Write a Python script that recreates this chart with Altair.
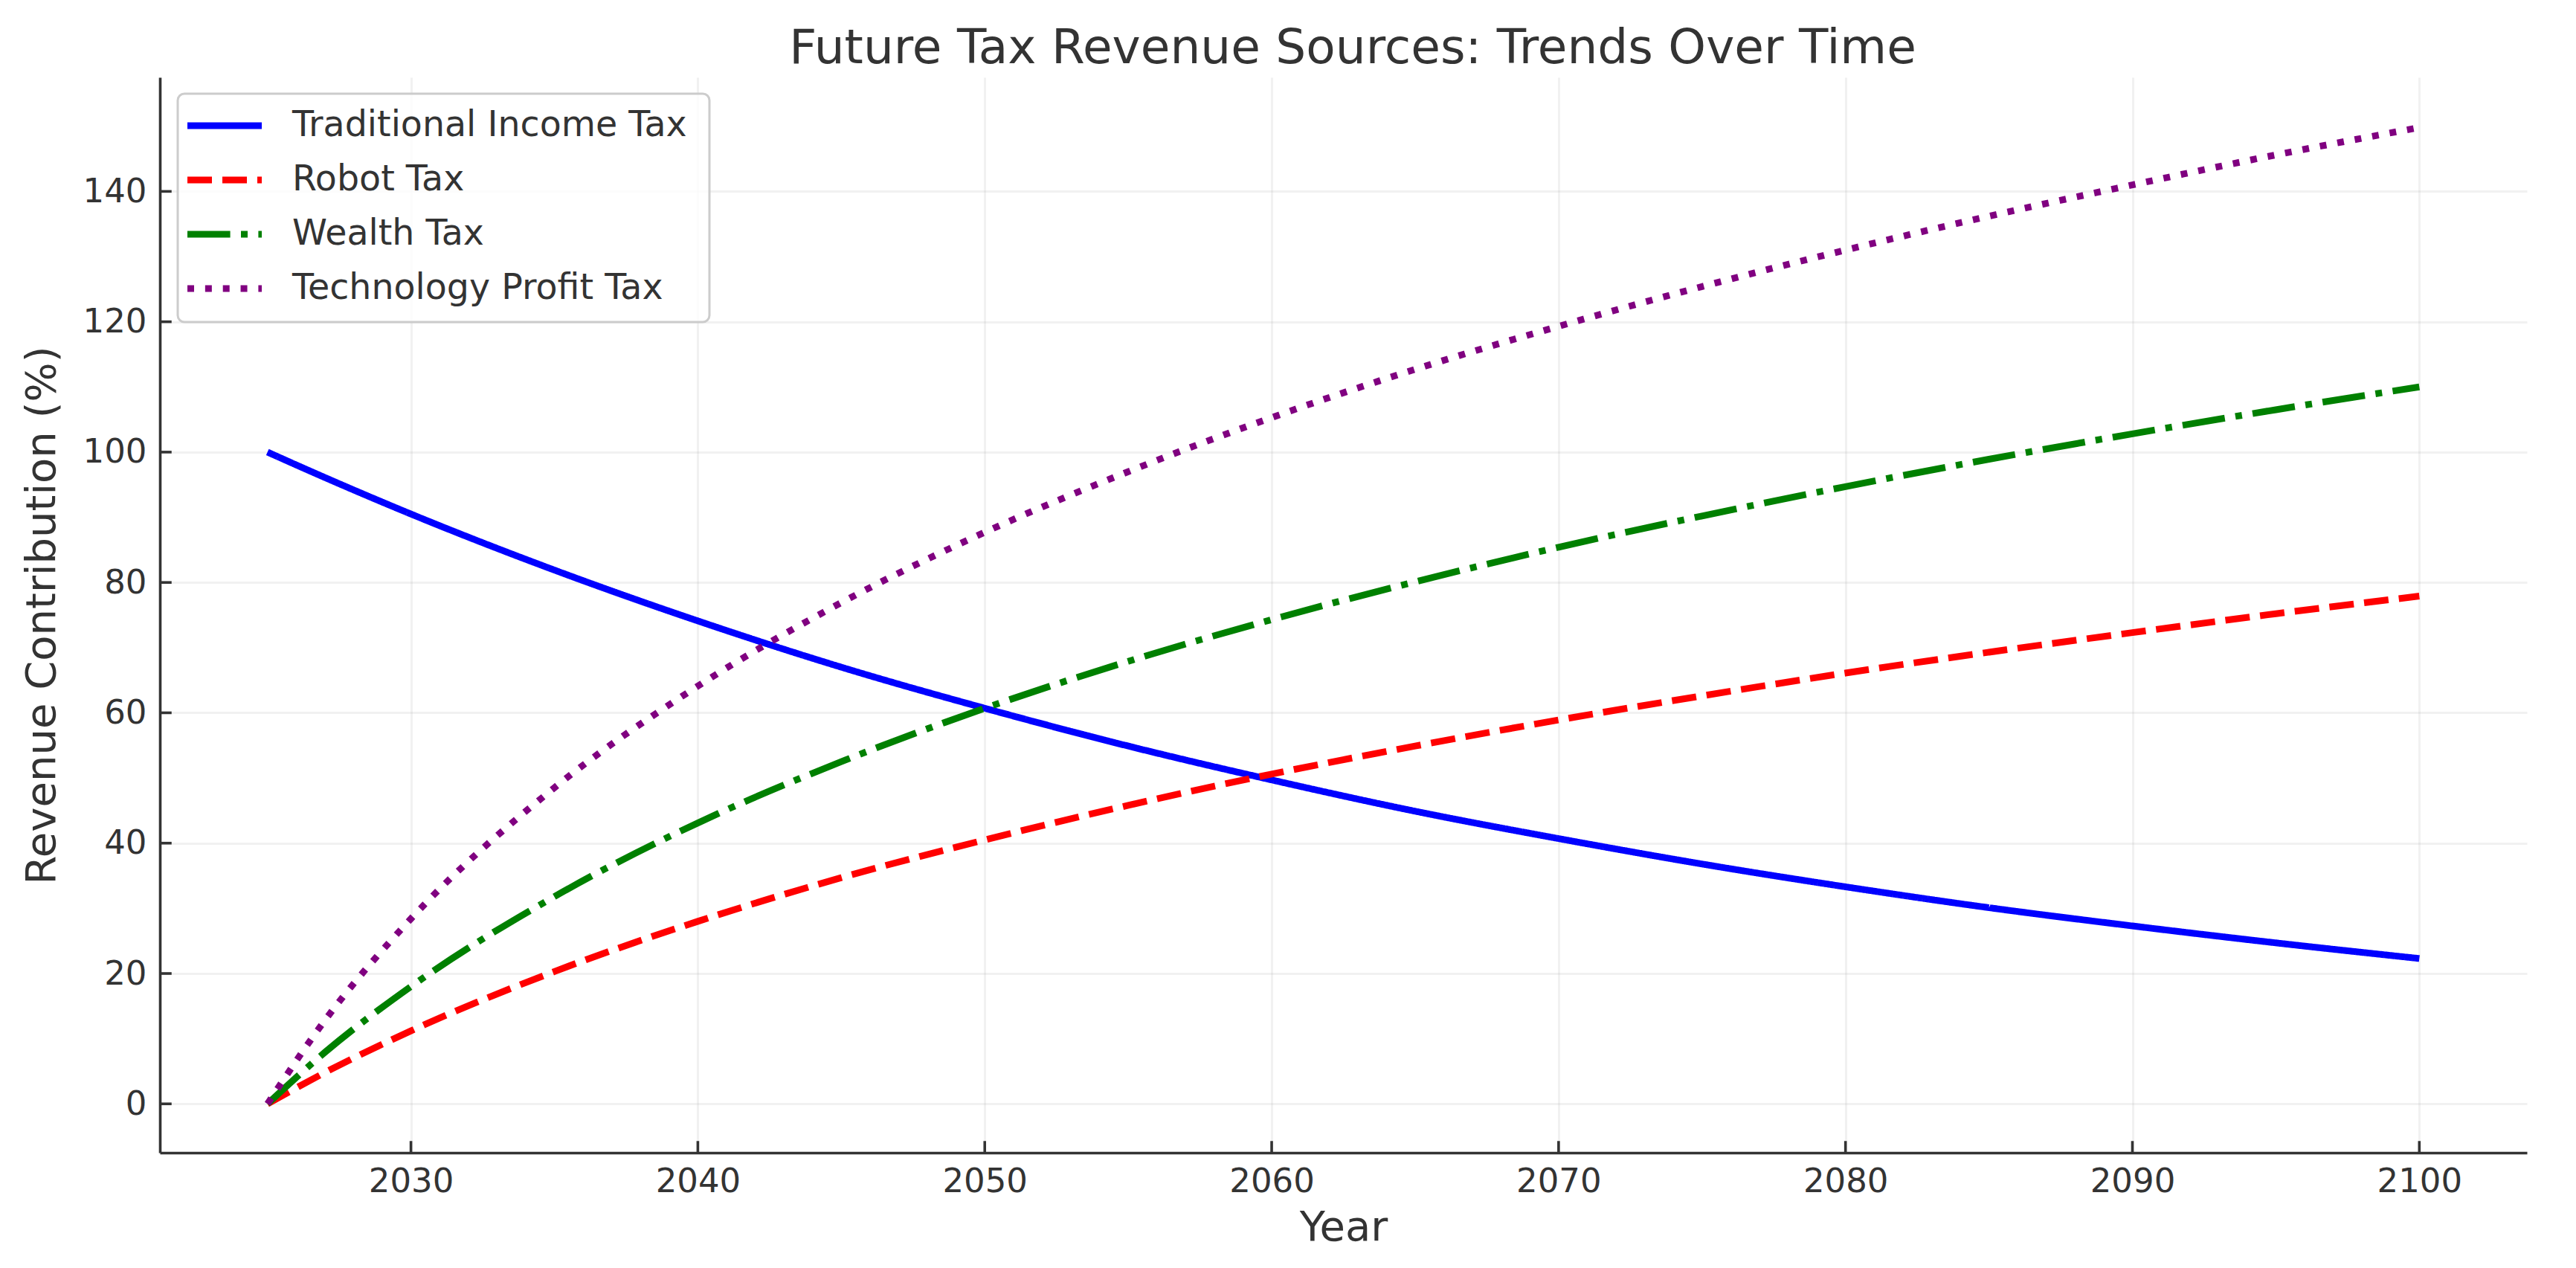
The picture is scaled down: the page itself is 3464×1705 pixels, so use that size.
import altair as alt
import pandas as pd

# ---- data ----
years = [2025, 2027, 2030, 2035, 2040, 2045, 2050, 2055, 2060, 2065, 2070, 2075, 2080, 2085, 2090, 2095, 2100]
traditional = [100.0, 96.1, 90.5, 81.9, 74.1, 67.0, 60.7, 54.9, 49.7, 44.9, 40.7, 36.8, 33.3, 30.1, 27.3, 24.7, 22.3]
robot = [0.0, 4.8, 11.2, 20.3, 28.0, 34.7, 40.5, 45.8, 50.6, 54.9, 58.9, 62.6, 66.1, 69.3, 72.3, 75.2, 77.9]
wealth = [0.0, 7.9, 18.0, 31.8, 43.1, 52.5, 60.7, 67.9, 74.3, 80.1, 85.4, 90.2, 94.7, 98.9, 102.8, 106.5, 110.0]
tech = [0.0, 12.8, 28.4, 48.5, 64.1, 76.9, 87.7, 97.0, 105.3, 112.7, 119.3, 125.4, 131.0, 136.2, 141.0, 145.6, 149.8]

series_names = ["Traditional Income Tax", "Robot Tax", "Wealth Tax", "Technology Profit Tax"]
series_values = [traditional, robot, wealth, tech]
series_colors = ["#0000ff", "#ff0000", "#008000", "#800080"]
series_dashes = [[1, 0], [33, 14], [57.6, 14.4, 9, 14.4], [9, 14.85]]

x_ticks = [2030, 2040, 2050, 2060, 2070, 2080, 2090, 2100]
y_ticks = [0, 20, 40, 60, 80, 100, 120, 140]

TITLE = "Future Tax Revenue Sources: Trends Over Time"
X_TITLE = "Year"
Y_TITLE = "Revenue Contribution (%)"

# ---- layout / style ----
W, H = 3183, 1446
FONT = "DejaVu Sans"
TXT = "#333333"
TICK_LEN = 15.75

rows = []
for name, vals in zip(series_names, series_values):
    for yr, v in zip(years, vals):
        rows.append({"year": yr, "value": v, "series": name})
df = pd.DataFrame(rows)

x_scale = alt.Scale(domain=[2021.25, 2103.75], nice=False, zero=False)
y_scale = alt.Scale(domain=[-7.5, 157.5], nice=False, zero=False)

X = alt.X("year:Q", scale=x_scale,
          axis=alt.Axis(values=x_ticks, format="d", title=X_TITLE, ticks=False,
                        labelFontSize=45, labelPadding=16, titleFontSize=56,
                        titlePadding=12, grid=True))
Y = alt.Y("value:Q", scale=y_scale,
          axis=alt.Axis(values=y_ticks, format="d", title=Y_TITLE, ticks=False,
                        labelFontSize=45, labelPadding=18, titleFontSize=56,
                        titlePadding=26, grid=True))

lines = alt.Chart(df).mark_line(strokeWidth=9, interpolate="monotone").encode(
    x=X, y=Y,
    color=alt.Color("series:N", scale=alt.Scale(domain=series_names, range=series_colors), legend=None),
    strokeDash=alt.StrokeDash("series:N", scale=alt.Scale(domain=series_names, range=series_dashes), legend=None),
)

xt = alt.Chart(pd.DataFrame({"year": x_ticks})).mark_rule(color=TXT, strokeWidth=3.6).encode(
    x=X, y=alt.value(H), y2=alt.value(H - TICK_LEN))
yt = alt.Chart(pd.DataFrame({"value": y_ticks})).mark_rule(color=TXT, strokeWidth=3.6).encode(
    y=Y, x=alt.value(0), x2=alt.value(TICK_LEN))

one = pd.DataFrame({"k": [0]})
title_mark = alt.Chart(one).mark_text(text=TITLE, align="center", baseline="alphabetic",
                                      fontSize=64.5, font=FONT, color=TXT).encode(
    x=alt.value(1604), y=alt.value(-19))

legend_box = alt.Chart(one).mark_rect(fill="white", fillOpacity=0.8, stroke="#cccccc",
                                      strokeWidth=3, cornerRadius=9).encode(
    x=alt.value(24), x2=alt.value(739), y=alt.value(22), y2=alt.value(329))

legend_layers = [legend_box]
row_y = [65, 138, 211, 284]
for name, col, dash, ry in zip(series_names, series_colors, series_dashes, row_y):
    legend_layers.append(
        alt.Chart(one).mark_rule(color=col, strokeWidth=9, strokeDash=dash).encode(
            x=alt.value(37), x2=alt.value(137), y=alt.value(ry)))
    legend_layers.append(
        alt.Chart(one).mark_text(text=name, align="left", baseline="middle", fontSize=47.5,
                                 font=FONT, color=TXT).encode(
            x=alt.value(178), y=alt.value(ry)))

chart = alt.layer(lines, xt, yt, title_mark, *legend_layers).properties(
    width=W, height=H,
    padding={"left": 207, "top": 96, "right": 50, "bottom": 140},
    autosize=alt.AutoSizeParams(type="none"),
).configure(font=FONT).configure_view(stroke=None).configure_axis(
    domainColor=TXT, domainWidth=3.6, gridColor="#b0b0b0", gridOpacity=0.18, gridWidth=3,
    labelColor=TXT, titleColor=TXT, labelFont=FONT, titleFont=FONT, titleFontWeight="normal",
)

chart.save("out.html", embed_options={"renderer": "svg", "actions": False})
